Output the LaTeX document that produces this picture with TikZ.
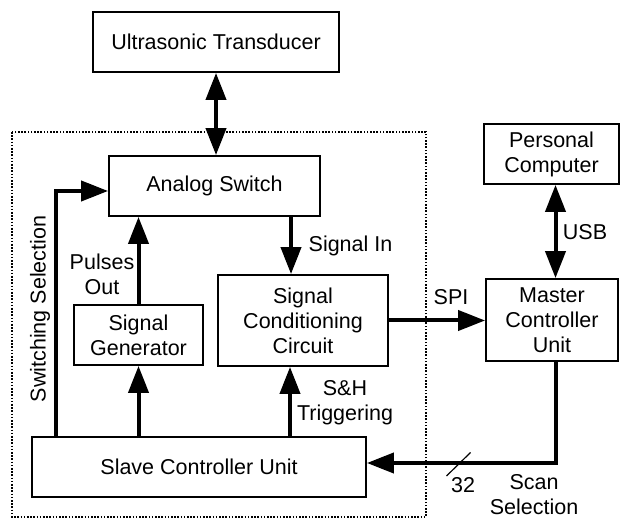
\documentclass[tikz,border=0pt]{standalone}
\usepackage{fontspec}
\setmainfont{Liberation Sans}
\usetikzlibrary{arrows.meta}
\begin{document}
\begin{tikzpicture}[x=1pt,y=-1pt,
  box/.style={draw,line width=1.8pt,inner sep=0pt,align=center,font=\fontsize{21.5}{25}\selectfont},
  lbl/.style={inner sep=0pt,align=center,font=\fontsize{21.5}{25}\selectfont},
  arr/.style={line width=4pt,-{Triangle[length=27pt,width=20pt]}},
  arrr/.style={line width=4pt,{Triangle[length=27pt,width=20pt]}-{Triangle[length=27pt,width=20pt]}}]
\useasboundingbox (0,0) rectangle (621,518);
% dotted frame
\draw[line width=1.6pt,dash pattern=on 1.6pt off 1.6pt] (12,132) rectangle (426,517);
% boxes
\node[box,minimum width=246pt,minimum height=60pt] (ut) at (216,42) {Ultrasonic Transducer};
\node[box,minimum width=211pt,minimum height=60pt] (as) at (214.5,186) {Analog Switch};
\node[box,minimum width=129pt,minimum height=60pt] (sg) at (138.5,335) {Signal\\Generator};
\node[box,minimum width=170pt,minimum height=91pt] (scc) at (303,320.5) {Signal\\Conditioning\\Circuit};
\node[box,minimum width=334pt,minimum height=60pt] (slave) at (199,467) {Slave Controller Unit};
\node[box,minimum width=135pt,minimum height=60pt] (pc) at (551.5,154) {Personal\\Computer};
\node[box,minimum width=132pt,minimum height=82pt] (mcu) at (552,320) {Master\\Controller\\Unit};
% connectors
\draw[arrr] (ut.south) -- (ut.south |- as.north);
\draw[arr] ([xshift=25pt]slave.north west) |- ([yshift=-5pt]as.west);
\draw[arr] (sg.north) -- (sg.north |- as.south);
\draw[arr] (slave.north -| sg.south) -- (sg.south);
\draw[arr] ([xshift=-12pt]scc.north |- as.south) -- ([xshift=-12pt]scc.north);
\draw[arr] ([xshift=-13pt]scc.south |- slave.north) -- ([xshift=-13pt]scc.south);
\draw[arr] (scc.east) -- (scc.east -| mcu.west);
\draw[arrr] ([xshift=3.5pt]mcu.north |- pc.south) -- ([xshift=3.5pt]mcu.north);
\draw[arr] ([xshift=3.5pt]mcu.south) |- ([yshift=4pt]slave.east);
\coordinate (sl1) at (446.5,476);
\coordinate (sl2) at (470.5,452.5);
\draw[line width=1.2pt] (sl1) -- (sl2);
% labels
\node[lbl,rotate=90] (swsel) at (40,309) {Switching Selection};
\node[lbl] (pulses) at (102,274.5) {Pulses\\Out};
\node[lbl] (sigin) at (350.5,246) {Signal In};
\node[lbl] (sh) at (345,403) {S\&H\\Triggering};
\node[lbl] (spi) at (451,297) {SPI};
\node[lbl] (usb) at (585,232) {USB};
\node[lbl] (n32) at (463,485) {32};
\node[lbl] (scan) at (534,494.5) {Scan\\Selection};
\end{tikzpicture}
\end{document}
